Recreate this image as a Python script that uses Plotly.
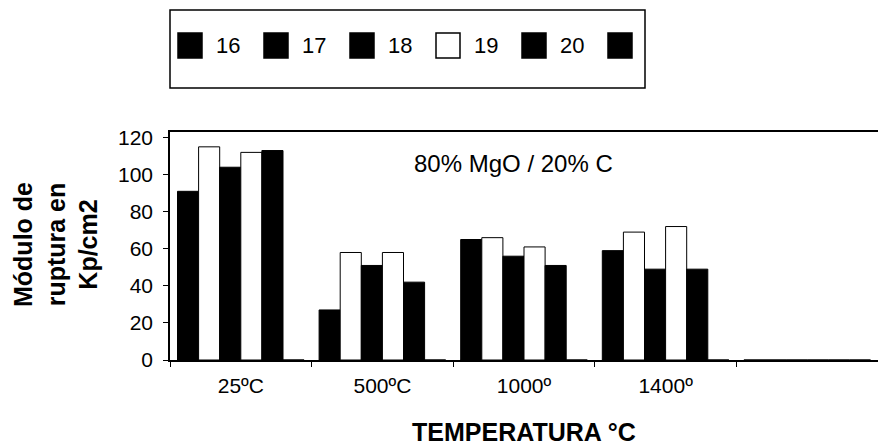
import plotly.graph_objects as go

# ---------------- data ----------------
categories = ["25ºC", "500ºC", "1000º", "1400º", " "]
series_names = ["16", "17", "18", "19", "20", ""]
s16 = [91, 27, 65, 59, 0]
s17 = [115, 58, 66, 69, 0]
s18 = [104, 51, 56, 49, 0]
s19 = [112, 58, 61, 72, 0]
s20 = [113, 42, 51, 49, 0]
s21 = [0, 0, 0, 0, 0]
series_values = [s16, s17, s18, s19, s20, s21]
y_ticks = [0, 20, 40, 60, 80, 100, 120]

# ---------------- style ----------------
bar_colors = ["black", "white", "black", "white", "black", "black"]
legend_colors = ["black", "black", "black", "white", "black", "black"]
FONT = "Liberation Sans, Arial, sans-serif"

W, H = 878, 447
L, R, T, B = 170, 0, 132, 87
PW, PH = W - L - R, H - T - B


def px_x(px):
    return (px - L) / PW


def px_y(py):
    return (H - B - py) / PH


fig = go.Figure()
for name, vals, col in zip(series_names, series_values, bar_colors):
    fig.add_bar(
        x=categories, y=vals, name=name,
        marker=dict(color=col, line=dict(color="black", width=1)),
        showlegend=False,
    )

shapes = []
annotations = []

# legend box (built from the series list)
shapes.append(dict(type="rect", xref="paper", yref="paper",
                   x0=px_x(170), x1=px_x(645), y0=px_y(88), y1=px_y(10),
                   line=dict(color="black", width=1.5), fillcolor="white"))
for i, (name, col) in enumerate(zip(series_names, legend_colors)):
    sx = 178 + 86 * i
    shapes.append(dict(type="rect", xref="paper", yref="paper",
                       x0=px_x(sx), x1=px_x(sx + 24), y0=px_y(58), y1=px_y(33),
                       line=dict(color="black", width=1.5), fillcolor=col))
    if name:
        annotations.append(dict(xref="paper", yref="paper", x=px_x(sx + 36), y=px_y(46),
                                text=name, showarrow=False, xanchor="left", yanchor="middle",
                                font=dict(family=FONT, size=22, color="black")))

annotations.append(dict(xref="paper", yref="paper", x=px_x(513), y=px_y(163),
                        text="80% MgO / 20% C", showarrow=False,
                        xanchor="center", yanchor="middle",
                        font=dict(family=FONT, size=24, color="black")))
annotations.append(dict(xref="paper", yref="paper", x=px_x(55), y=px_y(245),
                        text="<b>Módulo de<br>ruptura en<br>Kp/cm2</b>", showarrow=False,
                        textangle=-90, xanchor="center", yanchor="middle",
                        font=dict(family=FONT, size=25, color="black")))

fig.update_layout(
    width=W, height=H,
    margin=dict(l=L, r=R, t=T, b=B, pad=0),
    paper_bgcolor="white", plot_bgcolor="white",
    barmode="group", bargap=0.106, bargroupgap=0,
    showlegend=False,
    shapes=shapes, annotations=annotations,
    font=dict(family=FONT, color="black"),
)
fig.update_xaxes(
    type="category", range=[-0.5, 4.5],
    showline=True, linecolor="black", linewidth=1.5, mirror=True,
    ticks="outside", tickson="boundaries", ticklen=5, tickcolor="black",
    tickfont=dict(family=FONT, size=21), ticklabelstandoff=6,
    showgrid=False,
    title=dict(text="<b>TEMPERATURA °C</b>", font=dict(family=FONT, size=25), standoff=28),
)
fig.update_yaxes(
    range=[0, 123], tickvals=y_ticks,
    showline=True, linecolor="black", linewidth=1.5,
    ticks="outside", ticklen=5, tickcolor="black",
    tickfont=dict(family=FONT, size=21), ticklabelstandoff=6,
    showgrid=False, zeroline=False,
)

fig.write_html("out.html")
